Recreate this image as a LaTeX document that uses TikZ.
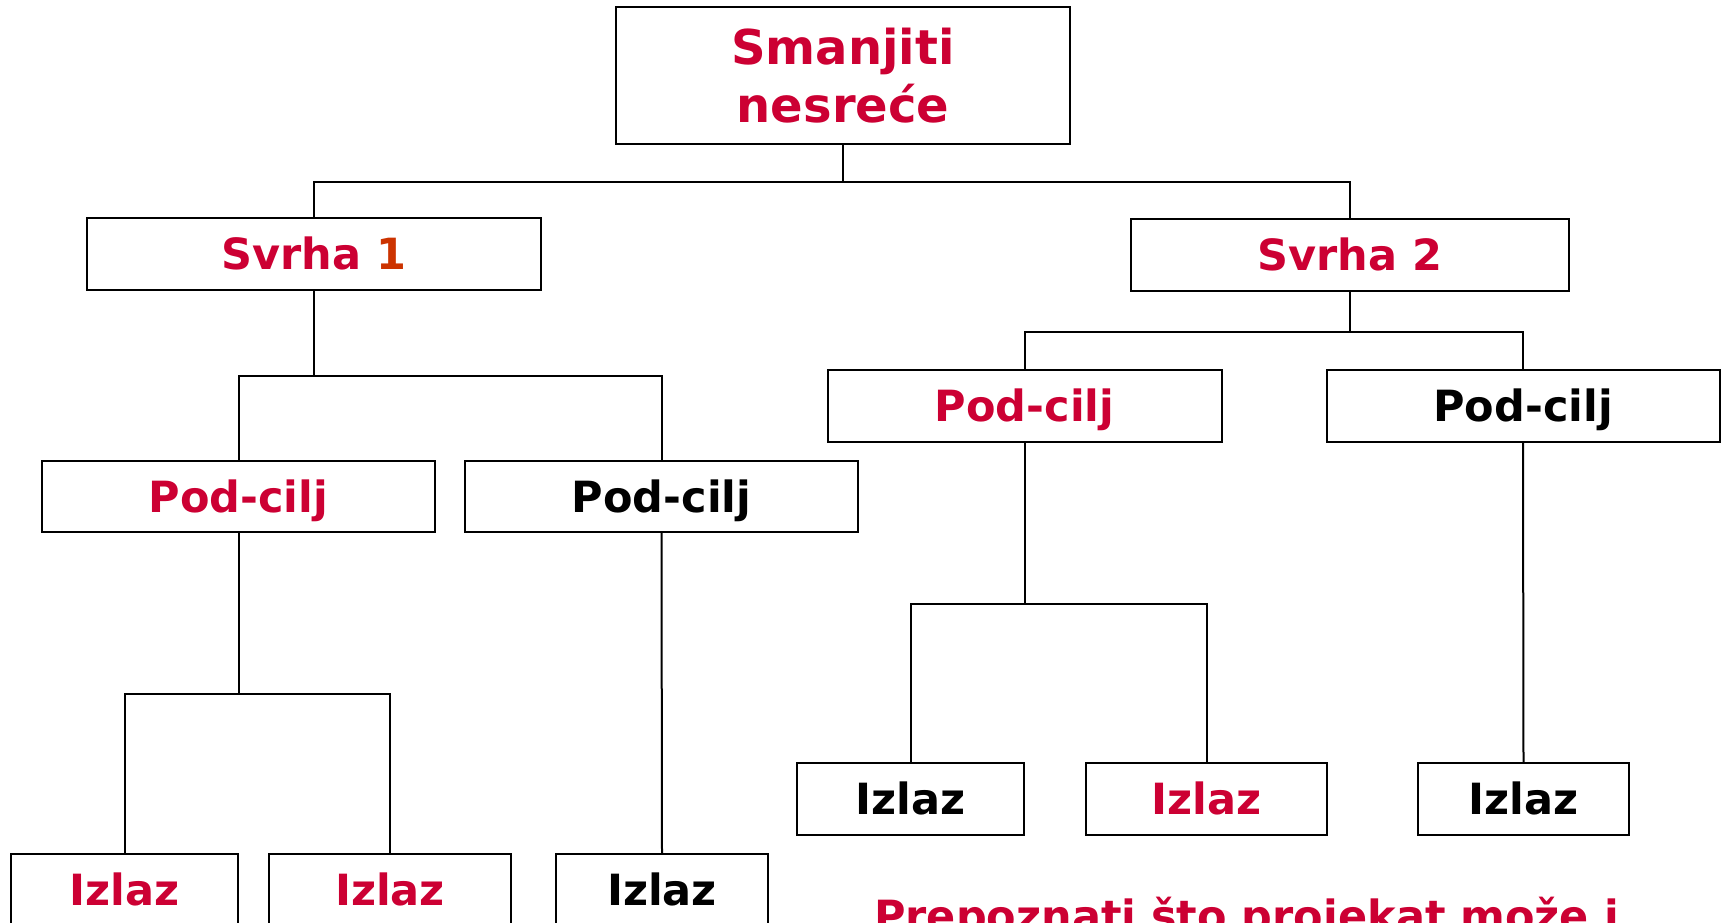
\documentclass[tikz,border=0pt]{standalone}
\usepackage{fontspec}
\setmainfont{DejaVu Sans}
\definecolor{myred}{HTML}{CC0033}
\definecolor{myorange}{HTML}{CC3300}
\begin{document}
\begin{tikzpicture}[x=1pt,y=-1pt,
  box/.style={draw=black,line width=2pt,fill=white,inner sep=0pt,align=center,
    font=\fontsize{43}{52}\selectfont\bfseries},
  single/.style={box,text height=31pt,text depth=0pt},
  conn/.style={line width=2pt,line cap=rect}]
\useasboundingbox (0,0) rectangle (1725,923);
\fill[white] (0,0) rectangle (1725,923);
% nodes
\node[box,minimum width=454,minimum height=137,font=\fontsize{48}{58}\selectfont\bfseries,text=myred] (top) at (843,75.5) {Smanjiti\\nesreće};
\node[single,minimum width=454,minimum height=72,text=myred] (s1) at (314,254) {Svrha \textcolor{myorange}{1}};
\node[single,minimum width=438,minimum height=72,text=myred] (s2) at (1350,255) {Svrha 2};
\node[single,minimum width=393,minimum height=71,text=myred] (pl1) at (238.5,496.5) {Pod-cilj};
\node[single,minimum width=393,minimum height=71] (pl2) at (661.5,496.5) {Pod-cilj};
\node[single,minimum width=394,minimum height=72,text=myred] (pr1) at (1024.5,406) {Pod-cilj};
\node[single,minimum width=393,minimum height=72] (pr2) at (1523,406) {Pod-cilj};
\node[single,minimum width=227,minimum height=72,text=myred] (il1) at (124.5,890) {Izlaz};
\node[single,minimum width=242,minimum height=72,text=myred] (il2) at (390,890) {Izlaz};
\node[single,minimum width=212,minimum height=72] (il3) at (662,890) {Izlaz};
\node[single,minimum width=227,minimum height=72] (ir1) at (910.5,799) {Izlaz};
\node[single,minimum width=241,minimum height=72,text=myred] (ir2) at (1206.5,799) {Izlaz};
\node[single,minimum width=211,minimum height=72] (ir3) at (1523.5,799) {Izlaz};
\node[anchor=base,inner sep=0pt,text=myred,font=\fontsize{43}{52}\selectfont\bfseries] (note) at (1246.5,931) {Prepoznati što projekat može i};
% connectors
\draw[conn] (top.south) -- ++(0,37) -| (s1.north);
\draw[conn] (top.south) -- ++(0,37) -| (s2.north);
\draw[conn] (s1.south) -- ++(0,85) -| (pl1.north);
\draw[conn] (s1.south) -- ++(0,85) -| (pl2.north);
\draw[conn] (s2.south) -- ++(0,40) -| (pr1.north);
\draw[conn] (s2.south) -- ++(0,40) -| (pr2.north);
\draw[conn] (pl1.south) -- ++(0,161) -| (il1.north);
\draw[conn] (pl1.south) -- ++(0,161) -| (il2.north);
\draw[conn] (pl2.south) -- (il3.north);
\draw[conn] (pr1.south) -- ++(0,161) -| (ir1.north);
\draw[conn] (pr1.south) -- ++(0,161) -| (ir2.north);
\draw[conn] (pr2.south) -- (ir3.north);
\end{tikzpicture}
\end{document}
